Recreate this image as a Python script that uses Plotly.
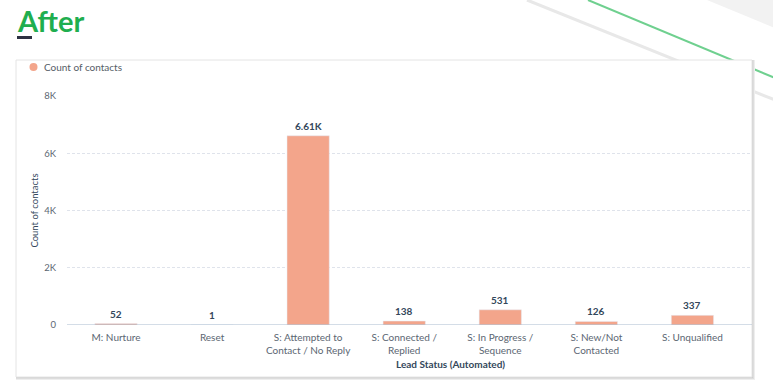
import plotly.graph_objects as go

categories = ["M: Nurture", "Reset", "S: Attempted to<br>Contact / No Reply",
              "S: Connected /<br>Replied", "S: In Progress /<br>Sequence",
              "S: New/Not<br>Contacted", "S: Unqualified"]
values = [52, 1, 6610, 138, 531, 126, 337]
y_ticks = [0, 2000, 4000, 6000, 8000]
y_tick_labels = ["0", "2K", "4K", "6K", "8K"]
series_name = "Count of contacts"

BAR = "#f3a58b"
FONT = "Lato"
TICK = "#5b6672"

def fmt(v):
    return f"{v/1000:.2f}".rstrip("0").rstrip(".") + "K" if v >= 1000 else str(v)

W, H = 773, 391
L, R, T, B = 67, 21, 96, 66
pw, ph = W - L - R, H - T - B

def px(x):  # page pixel x -> paper
    return (x - L) / pw

def py(y):  # page pixel y -> paper
    return (H - B - y) / ph

fig = go.Figure()
fig.add_trace(go.Bar(x=list(range(len(categories))), y=values, marker_color=BAR,
                     width=0.44, name=series_name, showlegend=False,
                     hoverinfo="x+y"))

shapes = []
# decorative background
shapes.append(dict(type="path", xref="paper", yref="paper", layer="below",
                   path=f"M {px(707)} {py(0)} L {px(775)} {py(0)} L {px(775)} {py(28)} Z",
                   fillcolor="#f2f2f2", line=dict(width=0)))
shapes.append(dict(type="line", xref="paper", yref="paper", layer="below",
                   x0=px(527), y0=py(0), x1=px(775), y1=py(100),
                   line=dict(color="#e8e8e8", width=3)))
shapes.append(dict(type="line", xref="paper", yref="paper", layer="below",
                   x0=px(588), y0=py(0), x1=px(775), y1=py(78),
                   line=dict(color="#6fd08f", width=2)))
# card shadow
for off, col in [(3, "#eeeeee"), (2, "#dddddd"), (1, "#cfcfcf")]:
    shapes.append(dict(type="rect", xref="paper", yref="paper", layer="below",
                       x0=px(16), y0=py(377 + off), x1=px(752 + off), y1=py(60),
                       fillcolor=col, line=dict(width=0)))
shapes.append(dict(type="rect", xref="paper", yref="paper", layer="below",
                   x0=px(16), y0=py(377), x1=px(752), y1=py(60),
                   fillcolor="white", line=dict(color="#e4e4e4", width=1)))
# title underline
shapes.append(dict(type="rect", xref="paper", yref="paper",
                   x0=px(17), y0=py(39), x1=px(32), y1=py(36),
                   fillcolor="#2d3142", line=dict(width=0)))
# legend marker
shapes.append(dict(type="circle", xref="paper", yref="paper",
                   x0=px(29.5), x1=px(37.5), y0=py(63), y1=py(71),
                   fillcolor=BAR, line=dict(width=0)))
# baseline
shapes.append(dict(type="line", xref="paper", yref="y", x0=0, x1=1, y0=0, y1=0,
                   line=dict(color="#a9bbcf", width=1)))

annotations = [
    dict(text="<b>After</b>", xref="paper", yref="paper", x=px(15), y=py(20.5),
         xanchor="left", yanchor="middle", showarrow=False,
         font=dict(family=FONT, size=29, color="#1fae4f")),
    dict(text=series_name, xref="paper", yref="paper", x=px(42), y=py(67),
         xanchor="left", yanchor="middle", showarrow=False,
         font=dict(family=FONT, size=10, color="#555d66")),
    dict(text="<b>Lead Status (Automated)</b>", xref="paper", yref="paper",
         x=px(450), y=py(363.5), xanchor="center", yanchor="middle", showarrow=False,
         font=dict(family=FONT, size=10, color="#33475b")),
]
for i, v in enumerate(values):
    annotations.append(dict(text=f"<b>{fmt(v)}</b>", x=i, y=v, xref="x", yref="y",
                            yanchor="bottom", yshift=2, showarrow=False,
                            font=dict(family=FONT, size=10, color="#33475b")))

fig.update_layout(
    width=W, height=H, margin=dict(l=L, r=R, t=T, b=B),
    paper_bgcolor="white", plot_bgcolor="rgba(0,0,0,0)",
    font=dict(family=FONT, size=10, color=TICK),
    shapes=shapes, annotations=annotations,
    showlegend=False,
    xaxis=dict(tickmode="array", tickvals=list(range(len(categories))),
               ticktext=categories, range=[-0.51, 6.62], showgrid=False,
               zeroline=False, showline=False, ticks="", ticklen=0,
               ticklabelstandoff=5,
               tickfont=dict(family=FONT, size=10, color=TICK)),
    yaxis=dict(range=[0, 8000], tickmode="array", tickvals=y_ticks,
               ticktext=y_tick_labels, showgrid=True, gridcolor="#dfe3eb",
               griddash="3px,2px", gridwidth=1, zeroline=False, showline=False,
               ticks="", ticklabelstandoff=10,
               title=dict(text=series_name, standoff=3,
                          font=dict(family=FONT, size=9.5, color="#33475b")),
               tickfont=dict(family=FONT, size=9.5, color=TICK)),
)
fig.write_html("out.html", config={"displayModeBar": False},
               post_script="document.body.style.margin='0';document.body.style.overflow='hidden';")
